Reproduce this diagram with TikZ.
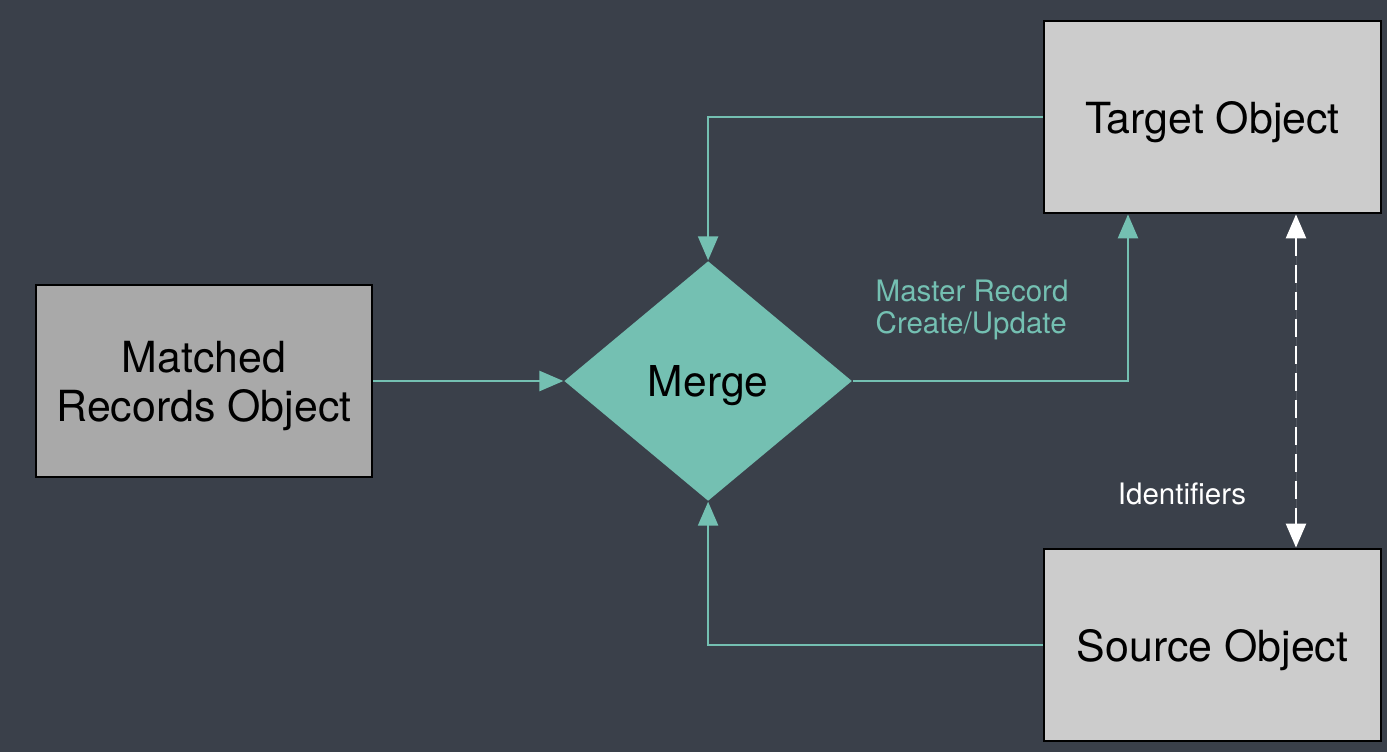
\documentclass[tikz,border=0pt]{standalone}
\usepackage{fontspec}
\setmainfont{TeX Gyre Heros}
\usepackage{tikz}
\usetikzlibrary{shapes,arrows,arrows.meta,positioning}

\definecolor{bgdark}{HTML}{3A404A}
\definecolor{mergeteal}{HTML}{74C0B2}
\definecolor{boxgray}{HTML}{A9A9A9}
\definecolor{boxlight}{HTML}{CCCCCC}

\begin{document}
\begin{tikzpicture}[
    objbox/.style={rectangle, draw=black, line width=0.8pt, fill=boxlight, minimum width=3.37cm, minimum height=1.92cm, align=center, text depth=0pt, font=\fontsize{12.2}{14}\selectfont},
    merger/.style={diamond, fill=mergeteal, inner sep=0pt, minimum width=2.88cm, minimum height=2.40cm, text depth=0pt, font=\fontsize{12.1}{14}\selectfont},
    lbl/.style={inner sep=0pt, align=left, font=\fontsize{8.4}{9.2}\selectfont},
    arrow/.style={-{Triangle[length=2.4mm, width=2mm]}, draw=mergeteal, line width=0.7pt},
    idarrow/.style={{Triangle[length=2.4mm, width=2mm]}-{Triangle[length=2.4mm, width=2mm]}, draw=white, fill=white, line width=0.7pt, dash pattern=on 1.8mm off 0.9mm}
]

% Background
\fill[bgdark] (0,0) rectangle (13.87,7.52);
\useasboundingbox (0,0) rectangle (13.87,7.52);

% Nodes
\node[objbox, fill=boxgray, minimum width=3.36cm] (matched) at (2.04,3.71) {Matched\\Records Object};
\node[merger, right=1.90cm of matched] (merge) {Merge};
\node[objbox] (target) at (12.125,6.35) {Target Object};
\node[objbox] (source) at (12.125,1.07) {Source Object};

% Labels
\node[lbl, text=mergeteal, anchor=north west] (masterlbl) at (8.75,4.73) {Master Record\\Create/Update};
\node[lbl, text=white] (idlbl) at (11.82,2.58) {Identifiers};

% Arrows
\draw[arrow] (matched) -- (merge);
\draw[arrow] (target.west) -| (merge.north);
\draw[arrow] (source.west) -| (merge.south);
\draw[arrow] (merge.east) -| ([xshift=-8.45mm]target.south);
\draw[idarrow] ([xshift=8.35mm]target.south) -- ([xshift=8.35mm]source.north);

\end{tikzpicture}
\end{document}
